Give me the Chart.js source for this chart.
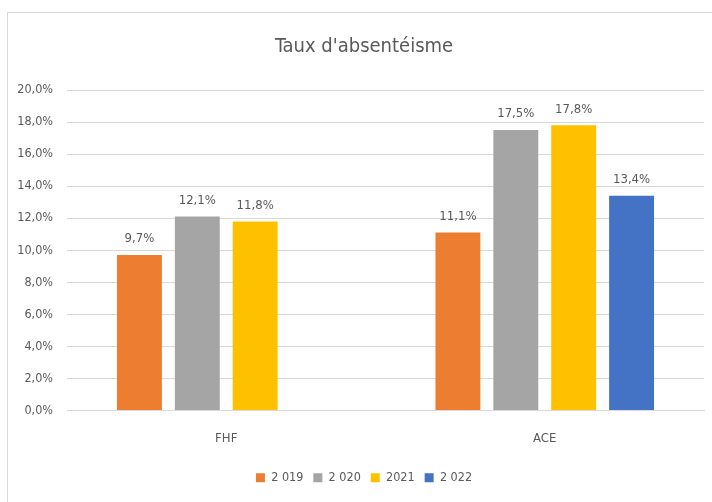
<!DOCTYPE html>
<html>
<head>
<meta charset="utf-8">
<script src="https://cdn.jsdelivr.net/npm/chart.js@4/dist/chart.umd.min.js"></script>
<style>
    html, body { margin: 0; padding: 0; background: #fff; }
    .frame { position: absolute; left: 7px; top: 12px; width: 720px; height: 500px; border: 1px solid #d9d9d9; box-sizing: border-box; }
    .chart-item { position: absolute; left: 0; top: 0; width: 712px; height: 502px; }
</style>
</head>
<body>
<div class="frame"></div>
<div class="chart-item"><canvas id="chart"></canvas></div>
<script>
const categories = ['FHF', 'ACE']
const years = ['2 019', '2 020', '2021', '2 022']
const values2019 = [9.7, 11.1]
const values2020 = [12.1, 17.5]
const values2021 = [11.8, 17.8]
const values2022 = [null, 13.4]
const colors = ['#ED7D31', '#A5A5A5', '#FFC000', '#4472C4']

const font = '"DejaVu Sans Condensed", "Open Sans", sans-serif'
const textColor = '#595959'
const fmt = v => v.toFixed(1).replace('.', ',') + '%'

// labels above each bar
const valueLabels = {
    id: 'valueLabels',
    beforeLayout(chart) {
        // let the y tick labels spill left of the padded box
        const y = chart.scales.y
        if (y) y._computeLabelArea = () => undefined
    },
    afterDatasetsDraw(chart) {
        const ctx = chart.ctx
        ctx.save()
        ctx.font = '13px ' + font
        ctx.fillStyle = textColor
        ctx.textAlign = 'center'
        ctx.textBaseline = 'middle'
        chart.data.datasets.forEach((ds, i) => {
            chart.getDatasetMeta(i).data.forEach((bar, j) => {
                if (ds.data[j] == null) return
                ctx.fillText(fmt(ds.data[j]), bar.x, bar.y - 16)
            })
        })
        ctx.restore()
    }
}

const seriesValues = [values2019, values2020, values2021, values2022]

new Chart(document.getElementById('chart'), {
    type: 'bar',
    data: {
        labels: categories,
        datasets: years.map((y, i) => ({
            label: y,
            data: seriesValues[i],
            backgroundColor: colors[i],
            categoryPercentage: 0.727,
            barPercentage: 0.776
        }))
    },
    options: {
        animation: false,
        responsive: true,
        maintainAspectRatio: false,
        layout: { padding: { left: 24, right: 8, top: 0, bottom: 8 } },
        plugins: {
            title: {
                display: true,
                text: "Taux d'absentéisme",
                color: textColor,
                font: { family: font, size: 20, weight: 'normal' },
                padding: { top: 35, bottom: 31 }
            },
            legend: {
                position: 'bottom',
                labels: {
                    color: textColor,
                    font: { family: font, size: 12.5 },
                    boxWidth: 9,
                    boxHeight: 9,
                    padding: 10
                }
            },
            tooltip: { enabled: false }
        },
        scales: {
            x: {
                grid: { display: false, drawTicks: false },
                border: { color: '#d9d9d9' },
                ticks: { color: textColor, font: { family: font, size: 13 }, padding: 20 },
                afterFit: scale => { scale.height = 51 }
            },
            y: {
                min: 0,
                max: 20,
                grid: { color: '#d9d9d9', drawTicks: false },
                border: { display: false },
                ticks: {
                    stepSize: 2,
                    color: textColor,
                    font: { family: font, size: 12.5 },
                    padding: 14,
                    callback: v => fmt(v)
                },
                afterFit: scale => { scale.width = 43 }
            }
        }
    },
    plugins: [valueLabels]
})
</script>
</body>
</html>
